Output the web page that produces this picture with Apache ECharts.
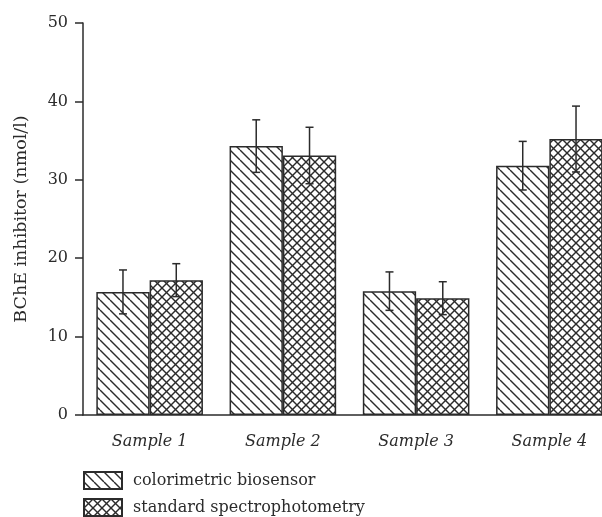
<!DOCTYPE html>
<html>
<head>
<meta charset="utf-8">
<script src="https://cdn.jsdelivr.net/npm/echarts@6/dist/echarts.min.js"></script>
<style>
html, body { margin: 0; padding: 0; background: #fff; }
#main { width: 602px; height: 517px; }
</style>
</head>
<body>
<div id="main"></div>
<script>
// data
var categories = ['Sample 1', 'Sample 2', 'Sample 3', 'Sample 4'];
var seriesNames = ['colorimetric biosensor', 'standard spectrophotometry'];
var colorimetric = [15.7, 34.3, 15.8, 31.8];
var colorimetricErr = [2.8, 3.35, 2.45, 3.1];
var standard = [17.2, 33.1, 14.9, 35.2];
var standardErr = [2.1, 3.6, 2.1, 4.2];
var yTicks = [0, 10, 20, 30, 40, 50];

var ink = '#2b2b2b';
var serif = '"DejaVu Serif", "Liberation Serif", serif';

// hatch fill, cross=true gives the diamond crosshatch
function makeHatch(size, cross) {
    var c = document.createElement('canvas');
    c.width = size;
    c.height = size;
    var ctx = c.getContext('2d');
    ctx.fillStyle = '#fff';
    ctx.fillRect(0, 0, size, size);
    ctx.strokeStyle = ink;
    ctx.lineWidth = 1.4;
    for (var k = -1; k <= 1; k++) {
        ctx.beginPath();
        ctx.moveTo(k * size, 0);
        ctx.lineTo(k * size + size, size);
        ctx.stroke();
        if (cross) {
            ctx.beginPath();
            ctx.moveTo(k * size, size);
            ctx.lineTo(k * size + size, 0);
            ctx.stroke();
        }
    }
    return c;
}

var diagFill = { image: makeHatch(10, false), repeat: 'repeat' };
var crossFill = { image: makeHatch(9, true), repeat: 'repeat' };

// error bars drawn on top of each bar, offset = position of bar centre within the band
function errorSeries(values, errs, offset) {
    var rows = [];
    for (var i = 0; i < values.length; i++) {
        rows.push([i, values[i] - errs[i], values[i] + errs[i]]);
    }
    return {
        type: 'custom',
        data: rows,
        z: 10,
        silent: true,
        renderItem: function (params, api) {
            var lo = api.coord([api.value(0), api.value(1)]);
            var hi = api.coord([api.value(0), api.value(2)]);
            var band = api.size([1, 0])[0];
            var x = lo[0] + band * offset;
            var cap = 4;
            var st = { stroke: ink, lineWidth: 1.5 };
            return {
                type: 'group',
                children: [
                    { type: 'line', shape: { x1: x, y1: lo[1], x2: x, y2: hi[1] }, style: st },
                    { type: 'line', shape: { x1: x - cap, y1: hi[1], x2: x + cap, y2: hi[1] }, style: st },
                    { type: 'line', shape: { x1: x - cap, y1: lo[1], x2: x + cap, y2: lo[1] }, style: st }
                ]
            };
        }
    };
}

// one legend block per row so they stack under the axis
function legendRow(name, top) {
    return {
        data: [name],
        left: 83,
        top: top,
        padding: 0,
        icon: 'rect',
        itemWidth: 38,
        itemHeight: 17,
        selectedMode: false,
        textStyle: { fontFamily: serif, fontSize: 16, color: ink, padding: [0, 0, 0, 6] }
    };
}

var myChart = echarts.init(document.getElementById('main'), null, { renderer: 'canvas' });
var option = {
    backgroundColor: '#fff',
    animation: false,
    textStyle: { fontFamily: serif },
    grid: {
        left: 83,
        top: 23,
        width: 533,
        height: 392,
        outerBoundsMode: 'none'
    },
    legend: [
        legendRow(seriesNames[0], 471),
        legendRow(seriesNames[1], 498)
    ],
    xAxis: {
        type: 'category',
        data: categories,
        axisLine: { lineStyle: { color: ink, width: 1.5 } },
        axisTick: { alignWithLabel: true, length: 8, lineStyle: { color: ink, width: 1.5 } },
        axisLabel: { fontFamily: serif, fontStyle: 'italic', fontSize: 16, color: ink, margin: 19 }
    },
    yAxis: {
        type: 'value',
        min: yTicks[0],
        max: yTicks[yTicks.length - 1],
        interval: 10,
        name: 'BChE inhibitor (nmol/l)',
        nameLocation: 'middle',
        nameGap: 53,
        nameTextStyle: { fontFamily: serif, fontSize: 17.5, color: ink },
        splitLine: { show: false },
        axisLine: { show: true, lineStyle: { color: ink, width: 1.5 } },
        axisTick: { show: true, length: 8, lineStyle: { color: ink, width: 1.5 } },
        axisLabel: { fontFamily: serif, fontSize: 16, color: ink, margin: 15 }
    },
    series: [
        {
            name: seriesNames[0],
            type: 'bar',
            data: colorimetric,
            barGap: '0%',
            barCategoryGap: '20%',
            itemStyle: { color: diagFill, borderColor: ink, borderWidth: 1.5 }
        },
        {
            name: seriesNames[1],
            type: 'bar',
            data: standard,
            barGap: '0%',
            barCategoryGap: '20%',
            itemStyle: { color: crossFill, borderColor: ink, borderWidth: 1.5 }
        },
        errorSeries(colorimetric, colorimetricErr, -0.2),
        errorSeries(standard, standardErr, 0.2)
    ]
};
myChart.setOption(option);
</script>
</body>
</html>
